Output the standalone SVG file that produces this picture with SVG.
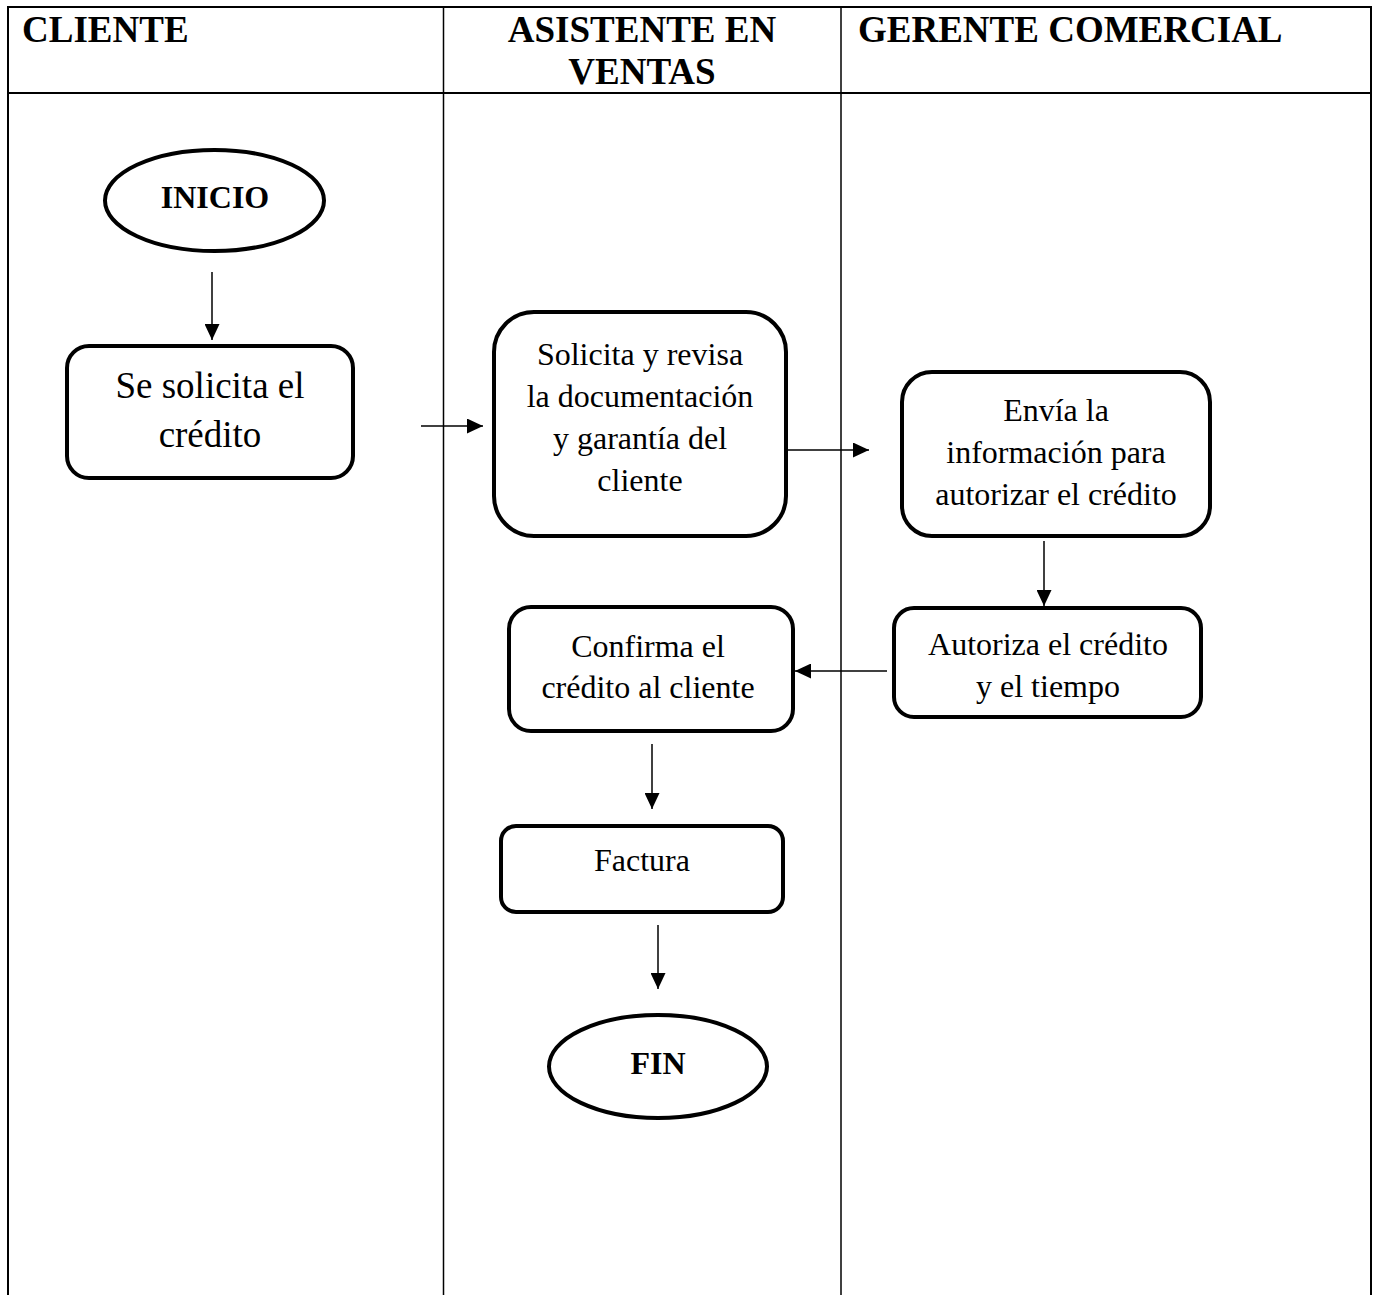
<svg xmlns="http://www.w3.org/2000/svg" width="1377" height="1295" viewBox="0 0 1377 1295">
<style>
.frame{stroke:#000;stroke-width:2;fill:none}
.div{stroke:#000;stroke-width:1.5;fill:none}
.shape{fill:#fff;stroke:#000;stroke-width:4}
.conn{stroke:#000;stroke-width:1.5;fill:none}
.hdr{font-family:"Liberation Serif","Times New Roman",serif;font-weight:bold;font-size:37px;fill:#000}
.t{font-family:"Liberation Serif","Times New Roman",serif;font-size:32px;fill:#000;text-anchor:middle}
.tb{font-family:"Liberation Serif","Times New Roman",serif;font-size:32px;font-weight:bold;fill:#000;text-anchor:middle}
</style>
<defs>
<marker id="ah" markerUnits="userSpaceOnUse" markerWidth="16" markerHeight="15" refX="16" refY="7.5" orient="auto">
<path d="M0,0 L16,7.5 L0,15 z" fill="#000"/>
</marker>
</defs>
<rect width="1377" height="1295" fill="#fff"/>
<g id="table">
<polyline class="frame" points="8,1295 8,7 1371,7 1371,1295"/>
<line class="frame" x1="8" y1="93" x2="1371" y2="93"/>
<line class="div" x1="443.5" y1="7" x2="443.5" y2="1295"/>
<line class="div" x1="841" y1="7" x2="841" y2="1295"/>
<text class="hdr" x="22" y="42">CLIENTE</text>
<text class="hdr" x="642" y="42" text-anchor="middle">ASISTENTE EN</text>
<text class="hdr" x="642" y="84" text-anchor="middle">VENTAS</text>
<text class="hdr" x="858" y="42">GERENTE COMERCIAL</text>
</g>
<g id="connectors">
<line class="conn" x1="212" y1="272" x2="212" y2="340" marker-end="url(#ah)"/>
<line class="conn" x1="421" y1="426" x2="483" y2="426" marker-end="url(#ah)"/>
<line class="conn" x1="788" y1="450" x2="869" y2="450" marker-end="url(#ah)"/>
<line class="conn" x1="1044" y1="541" x2="1044" y2="606" marker-end="url(#ah)"/>
<line class="conn" x1="887" y1="671" x2="795" y2="671" marker-end="url(#ah)"/>
<line class="conn" x1="652" y1="744" x2="652" y2="809" marker-end="url(#ah)"/>
<line class="conn" x1="658" y1="925" x2="658" y2="989" marker-end="url(#ah)"/>
</g>
<g id="inicio">
<ellipse class="shape" cx="214.5" cy="200.5" rx="109.5" ry="50.5"/>
<text class="tb" x="215" y="208">INICIO</text>
</g>
<g id="se-solicita">
<rect class="shape" x="67" y="346" width="286" height="132" rx="22"/>
<text class="t" x="210" y="398" style="font-size:37px">Se solicita el</text>
<text class="t" x="210" y="447" style="font-size:37px">crédito</text>
</g>
<g id="solicita-revisa">
<rect class="shape" x="494" y="312" width="292" height="224" rx="40"/>
<text class="t" x="640" y="365">Solicita y revisa</text>
<text class="t" x="640" y="407">la documentación</text>
<text class="t" x="640" y="449">y garantía del</text>
<text class="t" x="640" y="491">cliente</text>
</g>
<g id="envia">
<rect class="shape" x="902" y="372" width="308" height="164" rx="30"/>
<text class="t" x="1056" y="421">Envía la</text>
<text class="t" x="1056" y="463">información para</text>
<text class="t" x="1056" y="505">autorizar el crédito</text>
</g>
<g id="autoriza">
<rect class="shape" x="894" y="608" width="307" height="109" rx="20"/>
<text class="t" x="1048" y="655">Autoriza el crédito</text>
<text class="t" x="1048" y="697">y el tiempo</text>
</g>
<g id="confirma">
<rect class="shape" x="509" y="607" width="284" height="124" rx="22"/>
<text class="t" x="648" y="657">Confirma el</text>
<text class="t" x="648" y="698">crédito al cliente</text>
</g>
<g id="factura">
<rect class="shape" x="501" y="826" width="282" height="86" rx="15"/>
<text class="t" x="642" y="871">Factura</text>
</g>
<g id="fin">
<ellipse class="shape" cx="658" cy="1066.5" rx="109" ry="51.5"/>
<text class="tb" x="658" y="1074">FIN</text>
</g>
</svg>
